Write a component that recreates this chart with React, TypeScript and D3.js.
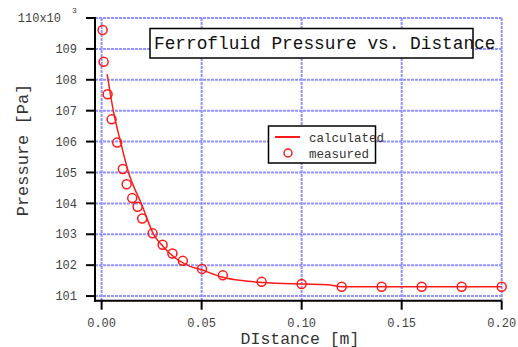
import React from "react";
import * as d3 from "d3";

const measuredX = [0.0005, 0.001, 0.003, 0.005, 0.0078, 0.0106, 0.0125, 0.0153, 0.018, 0.0203, 0.0255, 0.0305, 0.0354, 0.0406, 0.0502, 0.0606, 0.08, 0.1, 0.12, 0.14, 0.16, 0.18, 0.2];
const measuredY = [109.61, 108.58, 107.53, 106.72, 105.97, 105.11, 104.62, 104.17, 103.89, 103.51, 103.03, 102.66, 102.38, 102.14, 101.88, 101.67, 101.46, 101.39, 101.3, 101.3, 101.3, 101.3, 101.3];

const calcX = [0.0028, 0.006, 0.0095, 0.0135, 0.02, 0.026, 0.0305, 0.035, 0.044, 0.05, 0.06, 0.07, 0.08, 0.1, 0.113, 0.12, 0.14, 0.16, 0.18, 0.2];
const calcY = [108.18, 106.95, 105.98, 104.99, 103.97, 103.0, 102.62, 102.33, 101.97, 101.85, 101.62, 101.5, 101.44, 101.39, 101.37, 101.3, 101.3, 101.3, 101.3, 101.3];

const xTicks = [0, 0.05, 0.1, 0.15, 0.2];
const xTickLabels = ["0.00", "0.05", "0.10", "0.15", "0.20"];
const yTicks = [101, 102, 103, 104, 105, 106, 107, 108, 109, 110];
const yTickLabels = ["101", "102", "103", "104", "105", "106", "107", "108", "109", "110x10"];

const title = "Ferrofluid Pressure vs. Distance";
const xTitle = "DIstance [m]";
const yTitle = "Pressure [Pa]";
const legendLabels = ["calculated", "measured"];

const FONT = "'Liberation Mono', 'DejaVu Sans Mono', monospace";
const RED = "#ff1a1a";
const GRID = "#9292ff";

export default function App() {
  const x = d3.scaleLinear().domain([-0.0033, 0.2]).range([95, 501.7]);
  const y = d3.scaleLinear().domain([100.85, 110]).range([300.7, 18]);
  const [x0, x1] = x.range();
  const [yb, yt] = y.range();

  const calc = calcX.map((v, i) => [v, calcY[i]] as [number, number]);
  const line = d3
    .line<[number, number]>()
    .x((d) => x(d[0]))
    .y((d) => y(d[1]))
    .curve(d3.curveMonotoneX);

  return (
    <svg
      width={518}
      height={347}
      style={{ position: "absolute", left: 0, top: 0, background: "#fff" }}
      fontFamily={FONT}
    >
      {/* grid */}
      {yTicks.map((t) => (
        <line key={"gy" + t} x1={x0} x2={x1} y1={y(t)} y2={y(t)} stroke={GRID} strokeWidth={2} strokeDasharray="3,1" />
      ))}
      {xTicks.map((t) => (
        <line key={"gx" + t} x1={x(t)} x2={x(t)} y1={yt} y2={yb} stroke={GRID} strokeWidth={2} strokeDasharray="3,1" />
      ))}

      {/* axes */}
      <line x1={x0} x2={x0} y1={yt - 1} y2={yb + 1} stroke="#000" strokeWidth={2} />
      <line x1={x0 - 1} x2={x1} y1={yb} y2={yb} stroke="#000" strokeWidth={2} />
      {yTicks.map((t, i) => (
        <g key={"yt" + t}>
          <line x1={x0 - 9} x2={x0} y1={y(t)} y2={y(t)} stroke="#000" strokeWidth={2} />
          <text
            x={i === yTicks.length - 1 ? 61 : 77}
            y={y(t)}
            dy="0.35em"
            textAnchor="end"
            fontSize={12}
            fill="#444"
          >
            {yTickLabels[i]}
          </text>
        </g>
      ))}
      <text x={72} y={13} fontSize={8} fill="#444">3</text>
      {xTicks.map((t, i) => (
        <g key={"xt" + t}>
          <line x1={x(t)} x2={x(t)} y1={yb} y2={yb + 9} stroke="#000" strokeWidth={2} />
          <text x={x(t)} y={326.5} textAnchor="middle" fontSize={12} fill="#444">
            {xTickLabels[i]}
          </text>
        </g>
      ))}

      {/* axis titles */}
      <text x={300} y={343.5} textAnchor="middle" fontSize={16.5} fill="#333">
        {xTitle}
      </text>
      <text
        transform={`translate(28,150) rotate(-90)`}
        textAnchor="middle"
        fontSize={17}
        fill="#333"
      >
        {yTitle}
      </text>

      {/* data */}
      <path d={line(calc) || ""} fill="none" stroke={RED} strokeWidth={1.5} />
      {measuredX.map((v, i) => (
        <circle key={"m" + i} cx={x(v)} cy={y(measuredY[i])} r={4.5} fill="none" stroke={RED} strokeWidth={1.5} />
      ))}

      {/* title box */}
      <rect x={150} y={28.5} width={323} height={29.5} fill="#fff" stroke="#000" strokeWidth={1.5} />
      <text x={154} y={49} fontSize={17.8} fill="#111">
        {title}
      </text>

      {/* legend */}
      <rect x={268.5} y={126} width={107} height={37} fill="#fff" stroke="#000" strokeWidth={1.5} />
      <line x1={275} x2={300} y1={137} y2={137} stroke={RED} strokeWidth={2} />
      <text x={309} y={142} fontSize={12.5} fill="#333">{legendLabels[0]}</text>
      <circle cx={288} cy={153} r={4} fill="none" stroke={RED} strokeWidth={1.5} />
      <text x={309} y={157.5} fontSize={12.5} fill="#333">{legendLabels[1]}</text>
    </svg>
  );
}
